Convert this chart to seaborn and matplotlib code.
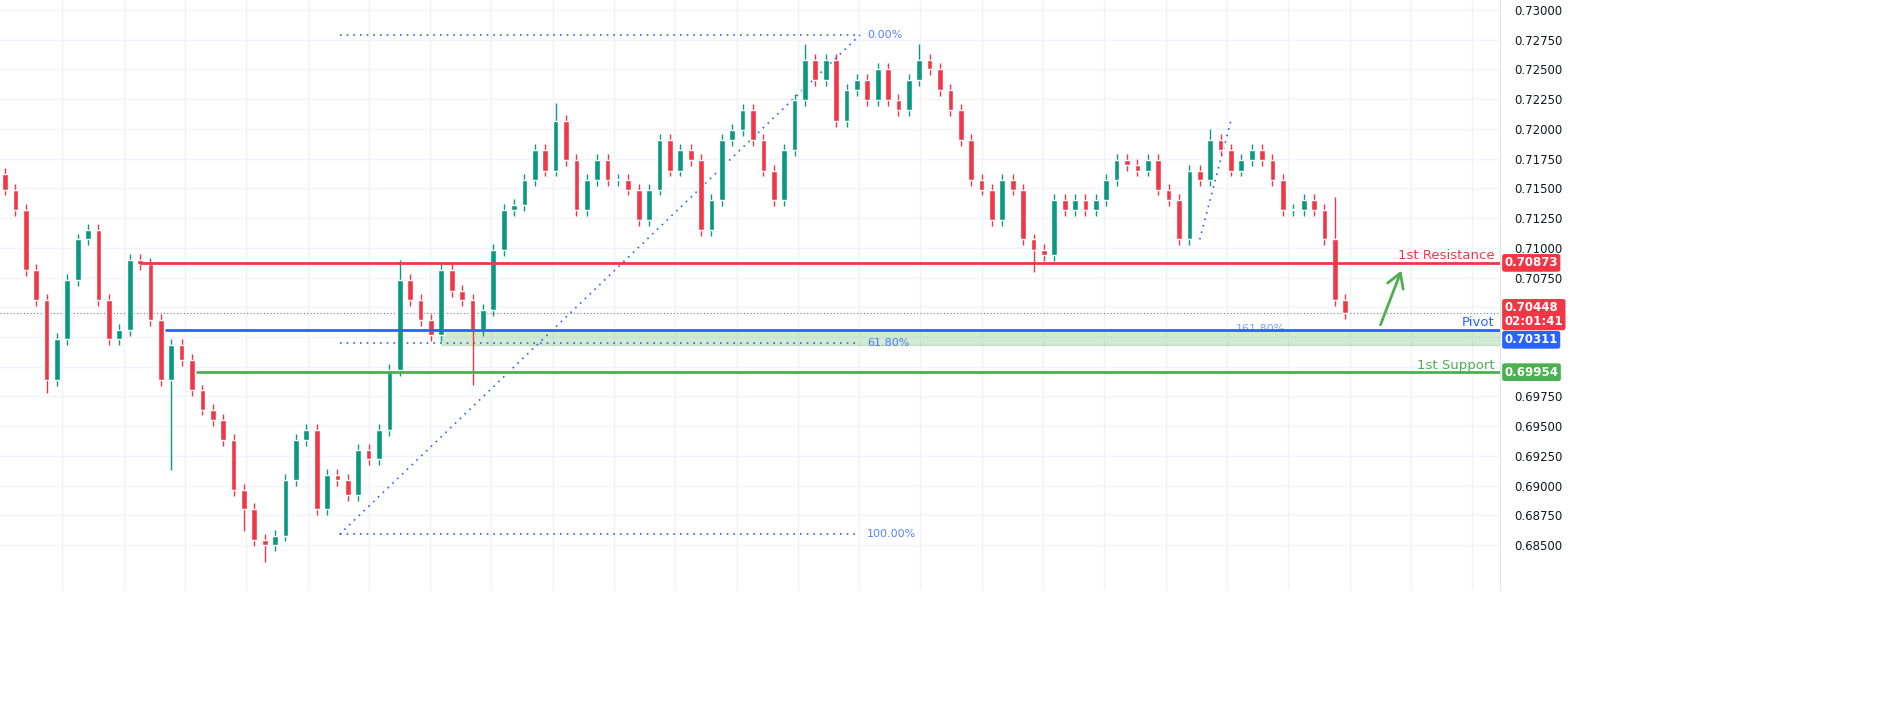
import matplotlib.pyplot as plt
import matplotlib.transforms as mtransforms
import numpy as np
import pandas as pd
import seaborn as sns

# closing prices, one per candle (open = previous close)
closes = [
    0.7149, 0.7132, 0.7081, 0.7056, 0.6989, 0.7023, 0.7073, 0.7107, 0.7115, 0.7056,
    0.7023, 0.7031, 0.7090, 0.7086, 0.7039, 0.6989, 0.7018, 0.7006, 0.6980, 0.6964,
    0.6955, 0.6938, 0.6896, 0.6880, 0.6854, 0.6850, 0.6858, 0.6905, 0.6938, 0.6947,
    0.6880, 0.6909, 0.6905, 0.6892, 0.6930, 0.6922, 0.6947, 0.6997, 0.7073, 0.7056,
    0.7039, 0.7027, 0.7081, 0.7064, 0.7056, 0.7031, 0.7048, 0.7098, 0.7132, 0.7136,
    0.7157, 0.7182, 0.7165, 0.7207, 0.7174, 0.7132, 0.7157, 0.7174, 0.7157, 0.7157,
    0.7149, 0.7123, 0.7149, 0.7191, 0.7165, 0.7182, 0.7174, 0.7115, 0.7140, 0.7191,
    0.7199, 0.7216, 0.7191, 0.7165, 0.7140, 0.7182, 0.7224, 0.7258, 0.7241, 0.7258,
    0.7207, 0.7233, 0.7241, 0.7224, 0.7250, 0.7224, 0.7216, 0.7241, 0.7258, 0.7250,
    0.7233, 0.7216, 0.7191, 0.7157, 0.7149, 0.7123, 0.7157, 0.7149, 0.7107, 0.7098,
    0.7094, 0.7140, 0.7132, 0.7140, 0.7132, 0.7140, 0.7157, 0.7174, 0.7170, 0.7165,
    0.7174, 0.7149, 0.7140, 0.7107, 0.7165, 0.7157, 0.7191, 0.7182, 0.7165, 0.7174,
    0.7182, 0.7174, 0.7157, 0.7132, 0.7132, 0.7140, 0.7132, 0.7107, 0.7056, 0.7045,
]
first_open = 0.7162
# long wicks seen in the picture: index -> (high, low)
long_wicks = {
    16: (None, 0.6913), 25: (None, 0.6836), 38: (0.7090, None), 45: (None, 0.6985),
    53: (0.7222, None), 77: (0.7271, None), 88: (0.7271, None), 99: (None, 0.7080),
    116: (0.7200, None), 128: (0.7143, None), 4: (None, 0.6978), 23: (None, 0.6862),
}
wick = 0.0005

resistance = 0.70873
pivot = 0.70311
support = 0.69954
last_price = 0.70448
zone_low = 0.7018
fib_top, fib_bottom, fib_618 = 0.7279, 0.6859, 0.7020

yticks = np.arange(0.6850, 0.73001, 0.0025)
hidden_ticks = ("0.70500", "0.70250", "0.70000")  # covered by the price boxes

opens = [first_open] + closes[:-1]
df = pd.DataFrame({"x": np.arange(len(closes)), "open": opens, "close": closes})
df["high"] = df[["open", "close"]].max(axis=1) + wick
df["low"] = df[["open", "close"]].min(axis=1) - wick
for i, (h, l) in long_wicks.items():
    if h is not None:
        df.loc[i, "high"] = h
    if l is not None:
        df.loc[i, "low"] = l
up = "#089981"
down = "#f23645"
df["color"] = np.where(df["close"] >= df["open"], up, down)

sns.set_style("white")
plt.rcParams["font.family"] = ["DejaVu Sans"]
fig = plt.figure(figsize=(18.77, 7.16), dpi=100)
ax = fig.add_axes([0, 1 - 590 / 716, 1500 / 1877, 590 / 716])

ax.vlines(df["x"], df["low"], df["high"], colors=df["color"], lw=1, zorder=3)
ax.bar(df["x"], (df["close"] - df["open"]).abs().clip(lower=0.00008),
       bottom=df[["open", "close"]].min(axis=1), width=0.55, color=df["color"], zorder=4)

xmin, xmax = -0.48, 143.9
ax.set_xlim(xmin, xmax)
ax.set_ylim(0.68122, 0.73084)

# grid
for v in yticks:
    ax.axhline(v, color="#f0f3fa", lw=1, zorder=0)
for gx in np.arange(xmin + 6, xmax, 5.9):
    ax.axvline(gx, color="#f0f3fa", lw=1, zorder=0)

# levels
ax.plot([13, xmax], [resistance] * 2, color="#f23645", lw=2, zorder=5)
ax.plot([15.5, xmax], [pivot] * 2, color="#2962ff", lw=2, zorder=5)
ax.plot([18.5, xmax], [support] * 2, color="#4caf50", lw=2, zorder=5)
ax.fill_between([42, xmax], zone_low, pivot, color="#4caf50", alpha=0.25, zorder=1)
ax.axhline(last_price, color="#787b86", lw=0.8, ls=(0, (1, 2)), zorder=2)

# fib
fc = "#2962ff"
for lv in (fib_top, fib_618, fib_bottom):
    ax.plot([32.2, 82.3], [lv, lv], color=fc, lw=1.2, ls=(0, (1, 3)), zorder=2)
ax.plot([32.2, 82.3], [fib_bottom, fib_top], color=fc, lw=1.2, ls=(0, (1, 3)), zorder=2)
ax.plot([115, 118], [0.7107, 0.7207], color=fc, lw=1.2, ls=(0, (1, 3)), zorder=2)
ax.text(83, fib_top, "0.00%", color=fc, fontsize=8, va="center", alpha=0.8)
ax.text(83, fib_618, "61.80%", color=fc, fontsize=8, va="center", alpha=0.8)
ax.text(83, fib_bottom, "100.00%", color=fc, fontsize=8, va="center", alpha=0.8)
ax.text(118.5, pivot + 0.00005, "161.80%", color=fc, fontsize=8, va="center", alpha=0.6)

# arrow
ax.annotate("", xy=(134.5, 0.7083), xytext=(132.3, 0.7033),
            arrowprops=dict(arrowstyle="->,head_width=0.6,head_length=1.0", color="#4caf50", lw=2))

ax.text(xmax - 0.5, resistance + 0.0003, "1st Resistance", color="#f23645", ha="right", fontsize=9.5)
ax.text(xmax - 0.5, pivot + 0.0003, "Pivot", color="#2962ff", ha="right", fontsize=9.5)
ax.text(xmax - 0.5, support + 0.0003, "1st Support", color="#4caf50", ha="right", fontsize=9.5)

# right axis
ax.yaxis.tick_right()
ax.set_yticks(yticks)
labels = [f"{v:.5f}" for v in yticks]
ax.set_yticklabels(["" if l in hidden_ticks else l for l in labels], fontsize=8.5, color="#131722")
ax.tick_params(axis="y", length=0, pad=10)
ax.set_xticks([])
for s in ("top", "left", "bottom"):
    ax.spines[s].set_visible(False)
ax.spines["right"].set_color("#e0e3eb")

tr = mtransforms.blended_transform_factory(ax.transAxes, ax.transData)
for val, txt, col in [(resistance, "0.70873", "#f23645"), (last_price - 0.0001, "0.70448\n02:01:41", "#f23645"),
                      (pivot - 0.00085, "0.70311", "#2962ff"), (support, "0.69954", "#4caf50")]:
    ax.text(1.003, val, txt, transform=tr, color="white", fontsize=8.5, fontweight="bold",
            va="center", ha="left", linespacing=1.05,
            bbox=dict(boxstyle="round,pad=0.2", fc=col, ec="none"), zorder=10)

fig.savefig("out.png", dpi=100)
